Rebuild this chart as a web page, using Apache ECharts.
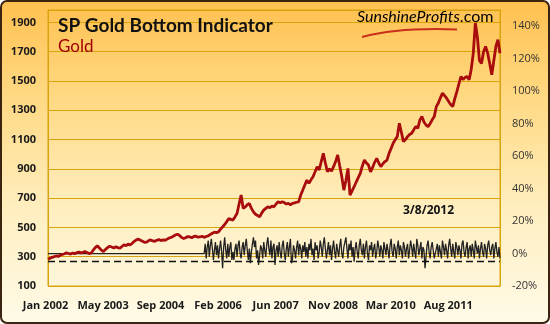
<!DOCTYPE html>
<html><head><meta charset="utf-8">
<script src="https://cdn.jsdelivr.net/npm/echarts@6/dist/echarts.min.js"></script>
<style>html,body{margin:0;padding:0;background:#fff;}#c{width:550px;height:324px;}</style>
</head><body><div id="c"></div>
<script>
const titleText = 'SP Gold Bottom Indicator';
const seriesName = 'Gold';
const dateNote = '3/8/2012';
const tickLabels = ['Jan 2002','May 2003','Sep 2004','Feb 2006','Jun 2007','Nov 2008','Mar 2010','Aug 2011'];
const labelStep = 28;
const leftTicks = {min: 100, max: 1985, interval: 200};
const rightTicks = {min: -20, max: 150, interval: 20};
const indicatorThreshold = -5;

const goldValues = [
283,290,296,300,305,302,310,315,320,326,322,318,325,320,328,332,326,330,336,328,
322,324,345,362,375,360,345,335,350,362,372,366,360,368,362,358,370,382,375,386,
380,392,405,415,420,412,405,398,400,410,415,408,405,412,418,410,415,412,420,428,
432,440,448,454,445,432,424,430,438,435,430,438,440,434,435,440,432,438,442,452,
460,468,465,470,488,504,520,540,561,555,550,572,595,660,721,630,640,655,664,630,
606,590,582,572,598,618,630,641,635,645,641,660,675,668,675,670,660,664,655,664,
668,672,675,721,755,790,823,801,825,846,880,915,892,950,1006,940,880,900,885,915,
950,995,920,846,755,820,903,721,750,778,810,840,869,920,960,940,926,880,910,945,
972,940,915,935,950,960,1006,1040,1075,1100,1120,1211,1150,1086,1100,1120,1135,1143,1166,1190,
1177,1234,1257,1220,1200,1188,1210,1235,1257,1325,1350,1385,1417,1400,1383,1360,1340,1325,1380,1428,
1480,1530,1510,1525,1530,1508,1580,1690,1896,1800,1640,1620,1700,1736,1690,1620,1542,1640,1736,1782,
1690
];

const indicatorValues = [
0,0,0,0,0,0,0,0,0,0,0,0,0,0,0,0,0,0,0,0,0,0,0,0,0,0,0,0,0,0,0,0,0,0,0,0,0,0,0,0,
0,0,0,0,0,0,0,0,0,0,0,0,0,0,0,0,0,0,0,0,0,0,0,0,0,0,0,0,0,0,0,0,0,0,0,0,0,0,0,0,
0,0,0,0,0,0,0,0,0,0,0,0,0,0,0,0,0,0,0,0,0,0,0,0,0,0,0,0,0,0,0,0,0,0,0,0,0,0,0,0,
0,0,0,0,0,0,0,0,0,0,0,0,0,0,0,0,0,0,0,0,0,0,0,0,0,0,0,0,0,0,0,0,
0,6,-3,4,8,-2,5,9,3,-4,2,7,-1,5,-3,3,8,1,-9,4,
10,2,-3,6,-2,4,7,-4,1,-4,3,6,-2,5,8,0,-3,4,7,-1,
5,9,2,-4,3,-6,1,6,10,4,8,-3,2,-7,-1,5,3,-3,7,2,
-2,6,10,3,-1,8,-3,4,6,-7,2,5,-2,7,1,-3,5,8,0,-4,
3,7,-2,4,9,-6,-3,5,2,-3,4,8,-1,6,3,-3,5,1,7,-2,
4,-3,6,2,9,-1,3,-4,7,2,5,-3,1,8,4,-2,6,10,3,-3,
2,7,-1,5,-4,3,8,1,-3,6,2,-2,5,9,0,-3,4,7,10,3,
-3,6,2,8,-2,4,-5,3,7,1,-3,5,9,2,-1,6,-3,4,8,0,
-4,5,2,7,-2,3,6,-3,1,8,4,-2,5,2,-3,7,3,-1,6,2,
-3,5,9,1,-2,6,3,-3,4,8,-1,5,2,-3,7,4,-2,3,6,-3,
2,8,4,-2,6,1,-3,9,5,-1,3,7,-3,4,2,-9,-2,5,8,1,
-3,4,7,2,-3,-4,3,6,-2,5,1,-3,8,4,-1,6,2,-3,5,9,
3,-2,6,1,-3,7,4,-1,5,2,-3,6,8,1,-2,4,7,-3,3,5,
-2,6,2,-3,8,4,0,5,-3,3,7,1,-2,6,3,-3,5,8,2,-1,
4,6,-3,3,7,1,-2,4,-3
];

const goldCats = goldValues.map((v, i) => String(i));
const indCats = indicatorValues.map((v, i) => String(i));

const chart = echarts.init(document.getElementById('c'), null, {renderer: 'canvas'});
const gold = '#D9A30C';
chart.setOption({
  animation: false,
  backgroundColor: 'transparent',
  graphic: [
    {type: 'rect', z: -10, shape: {x: 1, y: 1, width: 548, height: 322, r: 6},
     style: {fill: new echarts.graphic.LinearGradient(0, 0, 0, 1, [
       {offset: 0, color: '#FFC04F'}, {offset: 0.3, color: '#FFD983'},
       {offset: 0.65, color: '#FFEEC0'}, {offset: 1, color: '#FFFBE8'}]),
       stroke: '#3A2410', lineWidth: 2}},
    {type: 'text', z: 10, left: 357, top: 9,
     style: {text: '{s|Sunshine}{p|Pr}{o|o}{p|fits}{c|.com}',
       rich: {
         s: {fontFamily: 'Lato', fontStyle: 'italic', fontSize: 16, color: '#9C8E2E'},
         p: {fontFamily: 'Lato', fontStyle: 'italic', fontSize: 16, color: '#D2461C'},
         o: {fontFamily: 'Lato', fontStyle: 'italic', fontSize: 16, color: '#E6A800'},
         c: {fontFamily: 'Lato', fontSize: 16, color: '#2A2A2A'}
       }}},
    {type: 'bezierCurve', z: 10,
     shape: {x1: 362, y1: 37, cpx1: 385, cpy1: 31, cpx2: 420, cpy2: 28, x2: 457, y2: 29.5},
     style: {stroke: '#C8301A', lineWidth: 2, fill: null}},
    {type: 'text', z: 10, left: 403, top: 205,
     style: {text: dateNote, fontFamily: 'Open Sans', fontWeight: 'bold', fontSize: 12, fill: '#111'}}
  ],
  title: [
    {text: titleText, left: 53, top: 11,
     textStyle: {fontFamily: 'Lato', fontWeight: 'bold', fontSize: 19, color: '#111'}},
    {text: seriesName, left: 53, top: 33,
     textStyle: {fontFamily: 'Lato', fontWeight: 'normal', fontSize: 17, color: '#A00000'}}
  ],
  grid: {left: 48, right: 50, top: 10, bottom: 38, show: true, borderColor: gold, borderWidth: 1, backgroundColor: 'transparent'},
  xAxis: [
    {type: 'category', data: goldCats, boundaryGap: false,
     axisLine: {show: true, lineStyle: {color: gold}}, axisTick: {show: false},
     splitLine: {show: false},
     axisLabel: {interval: (idx) => idx % labelStep === 0 && idx / labelStep < tickLabels.length,
       hideOverlap: false, margin: 14,
       formatter: (v, idx) => '{a|' + (tickLabels[idx / labelStep] || '') + '}',
       rich: {a: {padding: [0, 5, 0, 0], fontFamily: 'Open Sans', fontWeight: 'bold', fontSize: 11, color: '#1a1a1a'}}}},
    {type: 'category', data: indCats, boundaryGap: false, show: false}
  ],
  yAxis: [
    {type: 'value', position: 'left', min: leftTicks.min, max: leftTicks.max, interval: leftTicks.interval,
     axisLine: {show: true, lineStyle: {color: gold}}, axisTick: {show: false},
     splitLine: {show: true, lineStyle: {color: gold, width: 1}},
     axisLabel: {showMaxLabel: false, margin: 12, formatter: (v) => String(v),
       fontFamily: 'Open Sans', fontWeight: 'bold', fontSize: 11, color: '#1a1a1a'}},
    {type: 'value', position: 'right', min: rightTicks.min, max: rightTicks.max, interval: rightTicks.interval,
     axisLine: {show: true, lineStyle: {color: gold}}, axisTick: {show: false},
     splitLine: {show: false},
     axisLabel: {showMaxLabel: false, margin: 12, formatter: (v) => v + '%', fontFamily: 'Open Sans', fontSize: 11, color: '#333'}}
  ],
  series: [
    {name: 'SP Gold Bottom Indicator', type: 'line', xAxisIndex: 1, yAxisIndex: 1, data: indicatorValues,
     showSymbol: false, symbol: 'none', z: 3,
     lineStyle: {color: '#222', width: 1.3},
     markLine: {silent: true, symbol: 'none', label: {show: false},
       lineStyle: {color: '#111', width: 1.3, type: [7, 4]},
       data: [{yAxis: indicatorThreshold}]}},
    {name: seriesName, type: 'line', xAxisIndex: 0, yAxisIndex: 0, data: goldValues,
     showSymbol: false, symbol: 'none', z: 4,
     lineStyle: {color: '#A80C0C', width: 2.8}}
  ]
});
</script></body></html>
